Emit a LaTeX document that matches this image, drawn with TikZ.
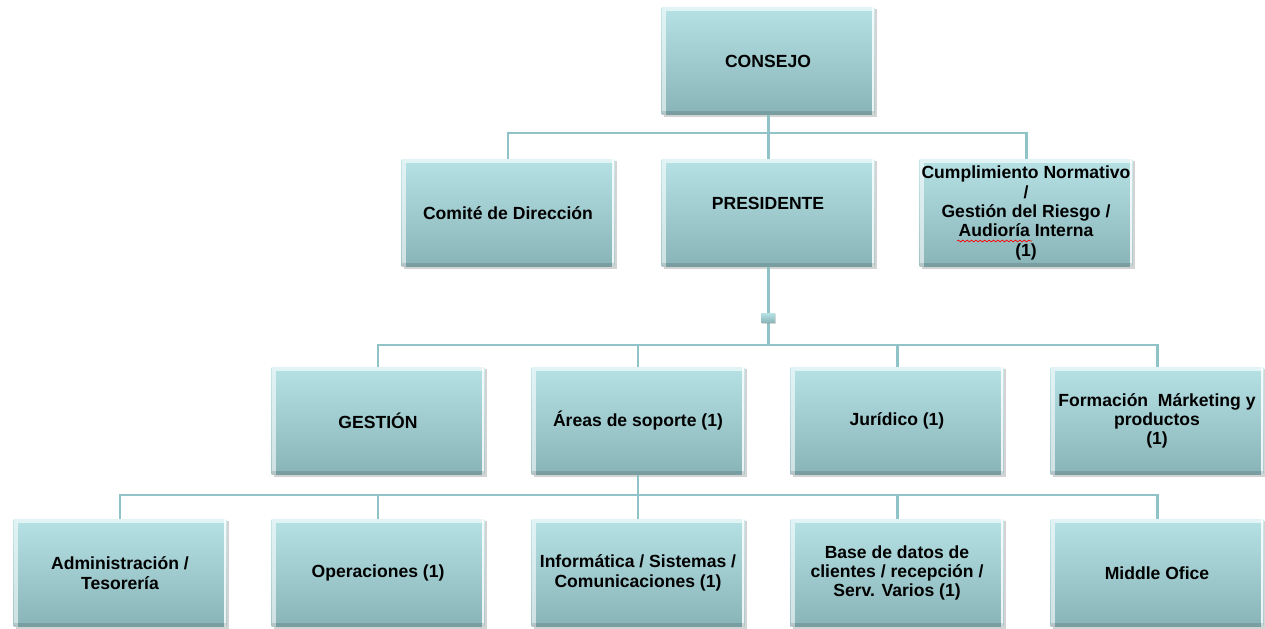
\documentclass[tikz,border=0pt]{standalone}
\usepackage{fontspec}
\setmainfont{Liberation Sans}
\usetikzlibrary{shadows,decorations.pathmorphing}
\definecolor{boxtop}{RGB}{182,226,230}
\definecolor{boxbot}{RGB}{136,180,184}
\definecolor{linkcol}{RGB}{143,195,200}
\begin{document}
\begin{tikzpicture}[x=0.02cm,y=-0.02cm,
    unit/.style={minimum width=4.26cm,minimum height=2.16cm,inner sep=1pt,align=center,
      top color=boxtop,bottom color=boxbot,
      font=\bfseries\fontsize{10}{11}\selectfont,
      drop shadow={shadow xshift=1.2pt,shadow yshift=-1.2pt,opacity=.35},
      path picture={
        \draw[white,opacity=.6,line width=5pt] (path picture bounding box.south west) |- (path picture bounding box.north east);
        \draw[white,opacity=.85,line width=3pt] (path picture bounding box.north east) -- (path picture bounding box.south east);
        \draw[black,opacity=.12,line width=5pt] (path picture bounding box.south west) -- (path picture bounding box.south east);
      }},
    link/.style={draw=linkcol,line width=1.7pt}]
  \useasboundingbox (0,0) rectangle (1265,629);
  % top levels
  \node[unit] (consejo) at (768,61) {CONSEJO};
  \node[unit] (comite) at (508,213) {Comité de Dirección};
  \node[unit] (presidente) at (768,213) {PRESIDENTE\\\mbox{}};
  \node[unit] (cumplimiento) at (1026,213) {Cumplimiento Normativo\\/\\Gestión del Riesgo /\\Audioría Interna\\(1)};
  \draw[red,decorate,decoration={snake,amplitude=.5pt,segment length=2.5pt}] (957,241) -- (1032,241);
  % areas
  \node[unit] (gestion) at (378,421) {GESTIÓN};
  \node[unit] (areas) at (638,421) {Áreas de soporte (1)};
  \node[unit] (juridico) at (897,421) {Jurídico (1)};
  \node[unit] (formacion) at (1157,421) {Formación~ Márketing y\\productos\\(1)};
  % soporte
  \node[unit] (admin) at (120,573) {Administración /\\Tesorería};
  \node[unit] (operaciones) at (378,573) {Operaciones (1)};
  \node[unit] (informatica) at (638,573) {Informática / Sistemas /\\Comunicaciones (1)};
  \node[unit] (base) at (897,573) {Base de datos de\\clientes / recepción /\\Serv. Varios (1)};
  \node[unit] (middle) at (1157,573) {Middle Ofice};
  % connectors
  \coordinate (bus1) at (768,133);
  \coordinate (bus2) at (768,345);
  \coordinate (bus3) at (638,495);
  \draw[link] (consejo) -- (presidente);
  \draw[link] (comite) |- (bus1) -| (cumplimiento);
  \draw[link] (presidente) -- (bus2);
  \draw[link] (gestion) |- (bus2) -| (formacion);
  \foreach \n in {areas,juridico} \draw[link] (\n) |- (bus2);
  \draw[link] (areas) -- (bus3);
  \draw[link] (admin) |- (bus3) -| (middle);
  \foreach \n in {operaciones,informatica,base} \draw[link] (\n) |- (bus3);
  \node[minimum width=0.28cm,minimum height=0.19cm,inner sep=0pt,top color=boxtop,bottom color=boxbot,
    drop shadow={shadow xshift=.5pt,shadow yshift=-.5pt,opacity=.3}] (asistente) at (768,318) {};
\end{tikzpicture}
\end{document}
